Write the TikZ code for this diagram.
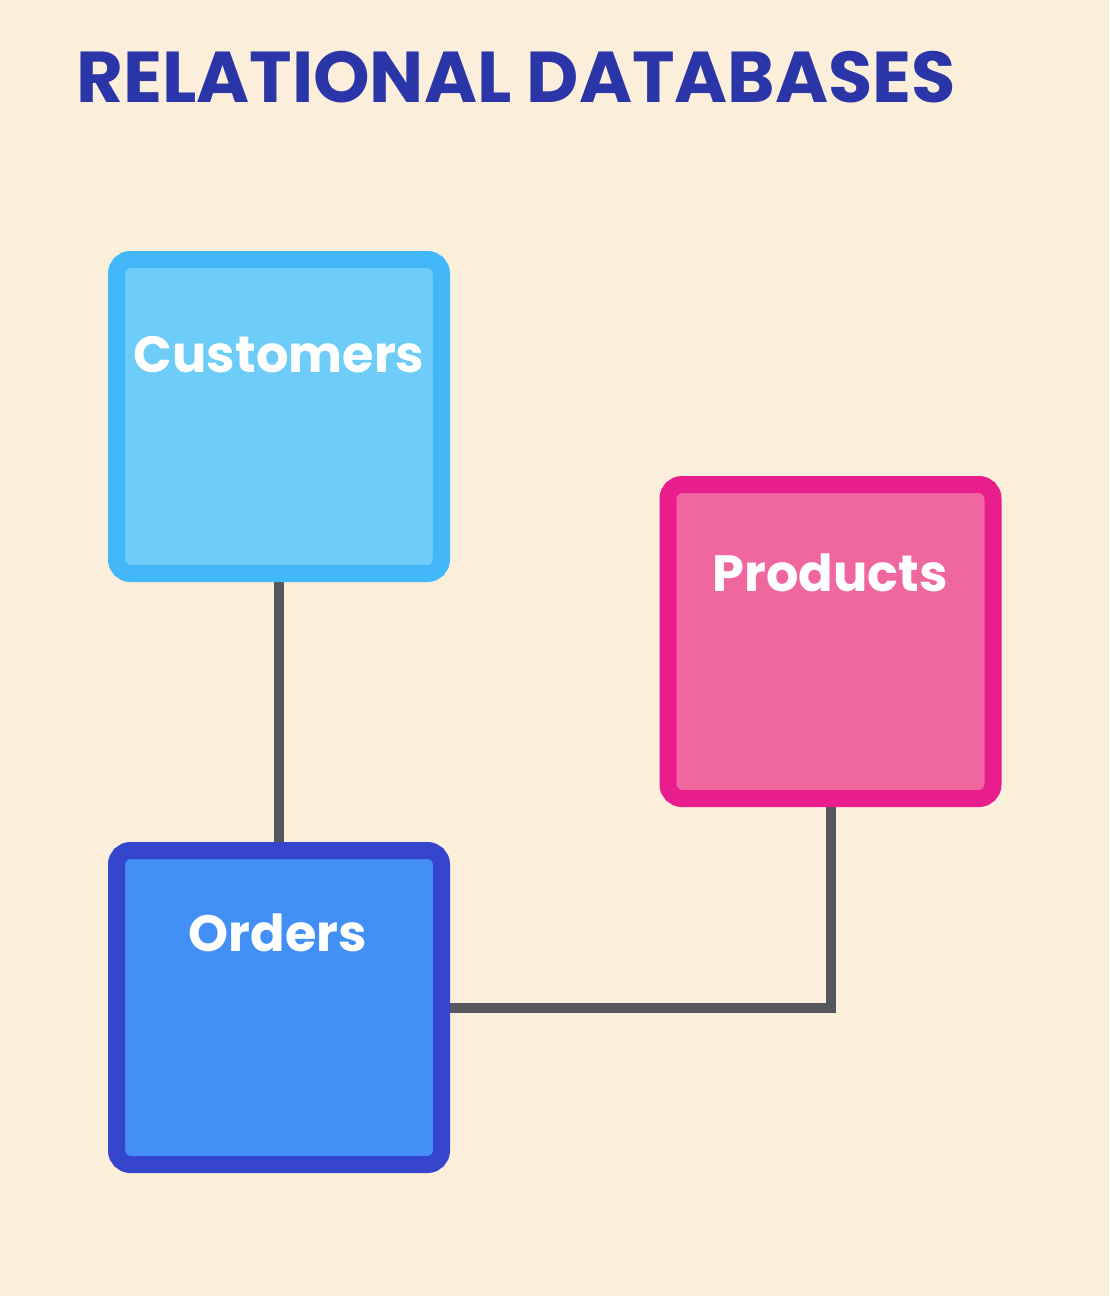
\documentclass[tikz,border=0pt]{standalone}
\usepackage{fontspec}
\setmainfont{Poppins}
\usetikzlibrary{backgrounds}
\definecolor{bg}{HTML}{FBEEDB}
\definecolor{titlec}{HTML}{2A36A8}
\definecolor{custb}{HTML}{42B8F8}
\definecolor{custf}{HTML}{6DCDF8}
\definecolor{prodb}{HTML}{E91E8C}
\definecolor{prodf}{HTML}{F0669E}
\definecolor{ordb}{HTML}{3545CC}
\definecolor{ordf}{HTML}{4290F5}
\definecolor{linec}{HTML}{54585C}
\begin{document}
\begin{tikzpicture}[x=1pt,y=-1pt,
  tbl/.style={rectangle, line width=17pt, rounded corners=14pt, minimum width=325pt, minimum height=314pt, inner sep=0pt},
  lbl/.style={text=white, font=\bfseries\fontsize{51}{61}\selectfont, inner sep=0pt, anchor=base},
  conn/.style={draw=linec, line width=10pt, line join=miter}]
\useasboundingbox (0,0) rectangle (1109,1296);
\node[anchor=base west, inner sep=0pt, text=titlec, font=\bfseries\fontsize{72}{86}\selectfont] (title) at (76,102) {RELATIONAL DATABASES};
\node[tbl, draw=custb, fill=custf] (cust) at (279,416.5) {};
\node[tbl, draw=prodb, fill=prodf] (prod) at (830.5,641.5) {};
\node[tbl, draw=ordb, fill=ordf] (ord) at (279,1007.5) {};
\node[lbl] (custT) at (279,372) {Customers};
\node[lbl] (prodT) at (830,591) {Products};
\node[lbl] (ordT) at (278,951) {Orders};
\begin{scope}[on background layer]
\fill[bg] (0,0) rectangle (1109,1296);
\draw[conn] (cust.south) -- (ord.north);
\draw[conn] (prod.south) |- (ord.east);
\end{scope}
\end{tikzpicture}
\end{document}
